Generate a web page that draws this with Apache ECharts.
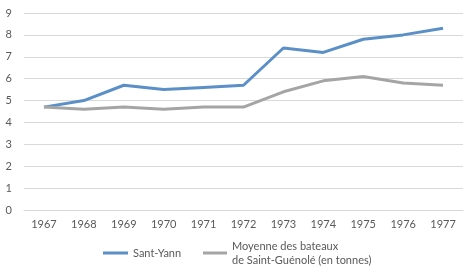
<!DOCTYPE html>
<html>
<head>
<meta charset="utf-8">
<script src="https://cdn.jsdelivr.net/npm/echarts@6/dist/echarts.min.js"></script>
<style>
html,body{margin:0;padding:0;background:#fff;}
#chart{width:474px;height:280px;}
</style>
</head>
<body>
<div id="chart"></div>
<script>
var categories = ['1967','1968','1969','1970','1971','1972','1973','1974','1975','1976','1977'];
var santYann = [4.7, 5.0, 5.7, 5.5, 5.6, 5.7, 7.4, 7.2, 7.8, 8.0, 8.3];
var moyenne = [4.7, 4.6, 4.7, 4.6, 4.7, 4.7, 5.4, 5.9, 6.1, 5.8, 5.7];
var seriesNames = ['Sant-Yann', 'Moyenne des bateaux\nde Saint-Guénolé (en tonnes)'];

var font = 'Lato';
var legendText = {fontFamily: font, fontSize: 11, color: '#595959', lineHeight: 14};
var chart = echarts.init(document.getElementById('chart'));
chart.setOption({
  animation: false,
  grid: {left: 24, right: 11, top: 13, bottom: 70},
  legend: [
    {
      left: 103, top: 246, padding: 0,
      itemWidth: 25, itemHeight: 3,
      icon: 'rect',
      textStyle: legendText,
      data: [seriesNames[0]]
    },
    {
      left: 203, top: 232, padding: 0,
      itemWidth: 24, itemHeight: 3,
      icon: 'rect',
      textStyle: Object.assign({}, legendText, {padding: [14, 0, 0, 0]}),
      data: [seriesNames[1]]
    }
  ],
  xAxis: {
    type: 'category',
    data: categories,
    boundaryGap: true,
    axisLine: {lineStyle: {color: '#d9d9d9'}},
    axisTick: {show: false},
    axisLabel: {fontFamily: font, fontSize: 11, color: '#595959', margin: 9}
  },
  yAxis: {
    type: 'value',
    min: 0, max: 9, interval: 1,
    axisLine: {show: false},
    axisTick: {show: false},
    splitLine: {lineStyle: {color: '#d9d9d9'}},
    axisLabel: {fontFamily: font, fontSize: 11, color: '#595959', margin: 12}
  },
  series: [
    {name: seriesNames[0], type: 'line', data: santYann, symbol: 'none',
     lineStyle: {width: 3, color: '#5B8FC7'}, itemStyle: {color: '#5B8FC7'}},
    {name: seriesNames[1], type: 'line', data: moyenne, symbol: 'none',
     lineStyle: {width: 3, color: '#A5A5A5'}, itemStyle: {color: '#A5A5A5'}}
  ]
});
</script>
</body>
</html>
